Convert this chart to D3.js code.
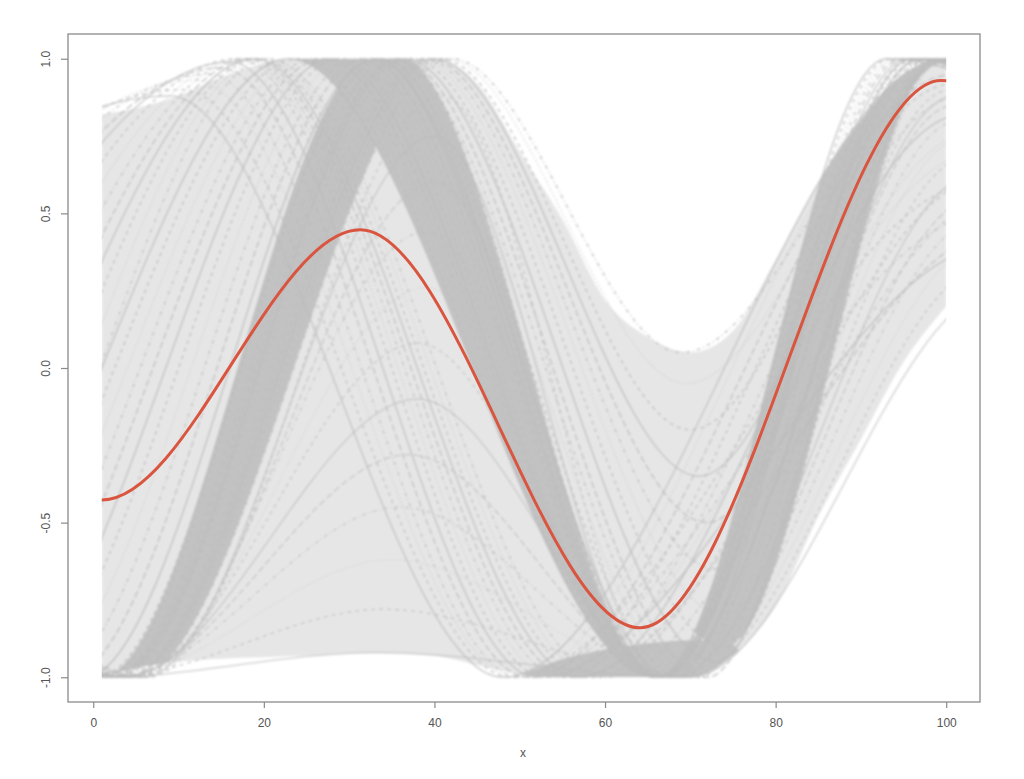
<!DOCTYPE html>
<html>
<head>
<meta charset="utf-8">
<script src="https://cdn.jsdelivr.net/npm/d3@7"></script>
<style>
  html, body { margin: 0; padding: 0; background: #fff; }
  svg { display: block; }
  text { font-family: "Liberation Sans", Arial, sans-serif; fill: #555; }
</style>
</head>
<body>
<svg id="chart" width="1024" height="779"></svg>
<script>
  /* global d3 */
  // axis ticks
  var xTicks = [0, 20, 40, 60, 80, 100];
  var yTicks = [-1, -0.5, 0, 0.5, 1];
  var yTickLabels = ["-1.0", "-0.5", "0.0", "0.5", "1.0"];

  // outline of the grey cloud (top and bottom), read at these x
  var edgeX     = [1, 5, 10, 15, 20, 25, 30, 35, 40, 45, 50, 55, 60, 65, 70, 75, 80, 85, 90, 95, 100];
  var upperEdge = [0.82, 0.84, 0.88, 0.94, 0.985, 1, 1, 1, 1, 0.92, 0.7, 0.48, 0.22, 0.1, 0.05, 0.12, 0.35, 0.6, 0.8, 0.95, 1];
  var lowerEdge = [-1, -0.97, -0.95, -0.94, -0.935, -0.93, -0.92, -0.92, -0.93, -0.96, -0.99, -1, -1, -1, -1, -0.93, -0.77, -0.48, -0.23, 0.02, 0.2];

  // peaks and troughs [x, y] of every curve, by group
  // rising from the bottom-left corner, peak at 33-42
  var riseKnots = [
    [[-40, 1], [1, -1], [33, 1], [68, -1], [96, 1], [150, -1]],
    [[-40, 1], [1.3, -1], [33.7, 1], [69, -1], [97, 1], [150, -1]],
    [[-40, 1], [1.6, -1], [34.4, 1], [70, -1], [97.5, 1], [150, -1]],
    [[-40, 1], [1.9, -1], [35.1, 1], [71, -1], [98, 1], [150, -1]],
    [[-40, 1], [2.2, -1], [35.8, 1], [72, -1], [98.5, 1], [150, -1]],
    [[-40, 1], [2.5, -1], [36.5, 1], [73, -0.95], [99, 1], [150, -1]],
    [[-40, 1], [2.8, -1], [37.2, 1], [74, -0.9], [99.5, 1], [150, -1]],
    [[-40, 1], [3.1, -1], [37.9, 1], [74, -0.8], [100, 1], [150, -1]],
    [[-40, 1], [3.4, -1], [38.6, 1], [73, -0.65], [100, 1], [150, -1]],
    [[-40, 1], [3.7, -1], [39.3, 1], [72, -0.5], [100, 1], [150, -1]],
    [[-40, 1], [4, -1], [40, 1], [71, -0.35], [100.5, 1], [150, -1]],
    [[-40, 1], [4.3, -1], [40.7, 1], [70, -0.2], [100.5, 1], [150, -1]],
    [[-40, 1], [4.6, -1], [41.4, 1], [69.5, -0.05], [101, 1], [150, -1]],
    [[-40, 1], [5, -1], [42, 1], [69, 0.05], [101, 1], [150, -1]]
  ];

  // peak at 23-36, falling together to the trough near 66
  var fallKnots = [
    [[-150, 1], [-21, -1], [23, 1], [66, -1], [93, 1], [160, -1]],
    [[-150, 1], [-19, -1], [24, 1], [66, -1], [93.5, 1], [160, -1]],
    [[-150, 1], [-17, -1], [25, 1], [66.1, -1], [94, 1], [160, -1]],
    [[-150, 1], [-15, -1], [26, 1], [66.1, -1], [94.5, 1], [160, -1]],
    [[-150, 1], [-13, -1], [27, 1], [66.2, -1], [95, 1], [160, -1]],
    [[-150, 1], [-11, -1], [28, 1], [66.2, -1], [95.5, 1], [160, -1]],
    [[-150, 1], [-9, -1], [29, 1], [66.3, -1], [96, 1], [160, -1]],
    [[-150, 1], [-7, -1], [30, 1], [66.3, -1], [96, 1], [160, -1]],
    [[-150, 1], [-5, -1], [31, 1], [66.4, -1], [96.5, 1], [160, -1]],
    [[-150, 1], [-3, -1], [32, 1], [66.4, -1], [97, 1], [160, -1]],
    [[-150, 1], [-1, -1], [33, 1], [66.5, -1], [97, 1], [160, -1]],
    [[-150, 1], [0.5, -1], [34, 1], [66.5, -1], [97.5, 1], [160, -1]],
    [[-150, 1], [2, -1], [35, 1], [66.5, -1], [98, 1], [160, -1]],
    [[-150, 1], [3, -1], [36, 1], [66.5, -1], [98, 1], [160, -1]]
  ];

  // start high, peak early
  var earlyKnots = [
    [[-150, 1], [-90, -1], [9, 0.88], [48, -1], [100, 1], [160, -1]],
    [[-150, 1], [-80, -1], [10.5, 0.9], [49, -1], [104, 0.6], [160, -1]],
    [[-150, 1], [-70, -1], [12, 0.93], [49.5, -1], [100, 0.98], [160, -1]],
    [[-150, 1], [-62, -1], [13.5, 0.95], [50, -1], [105, 0.5], [160, -1]],
    [[-150, 1], [-55, -1], [15, 0.97], [51, -1], [101, 0.95], [160, -1]],
    [[-150, 1], [-50, -1], [16, 0.99], [52, -1], [106, 0.4], [160, -1]],
    [[-150, 1], [-45, -1], [17, 1], [53, -1], [101, 0.92], [160, -1]],
    [[-150, 1], [-40, -1], [17.5, 1], [54, -1], [104, 0.7], [160, -1]],
    [[-150, 1], [-35, -1], [18, 1], [55, -1], [102, 0.88], [160, -1]],
    [[-150, 1], [-31, -1], [18.5, 1], [56, -1], [107, 0.45], [160, -1]],
    [[-150, 1], [-28, -1], [19, 1], [57, -1], [102, 0.82], [160, -1]],
    [[-150, 1], [-25, -1], [19.5, 1], [58, -1], [105, 0.62], [160, -1]],
    [[-150, 1], [-22, -1], [20, 1], [59, -1], [103, 0.76], [160, -1]],
    [[-150, 1], [-19, -1], [20.5, 1], [60, -1], [106, 0.55], [160, -1]]
  ];

  // low arches from the bottom
  var lowKnots = [
    [[-40, 1], [1, -1], [33, -0.92], [70, -1], [106, 0.25], [160, -1]],
    [[-40, 1], [1.5, -1], [34, -0.78], [69.5, -1], [105, 0.33], [160, -1]],
    [[-40, 1], [2, -1], [35, -0.62], [69, -1], [104.5, 0.4], [160, -1]],
    [[-40, 1], [2.5, -1], [36, -0.45], [68.5, -1], [104, 0.48], [160, -1]],
    [[-40, 1], [3, -1], [37, -0.28], [68, -1], [103.5, 0.55], [160, -1]],
    [[-40, 1], [3.5, -1], [38, -0.1], [68, -1], [103, 0.62], [160, -1]],
    [[-40, 1], [4, -1], [38, 0.08], [67.5, -1], [102.5, 0.68], [160, -1]],
    [[-40, 1], [4.5, -1], [39, 0.26], [67, -1], [102, 0.74], [160, -1]],
    [[-40, 1], [5, -1], [39, 0.44], [67, -1], [101.5, 0.8], [160, -1]],
    [[-40, 1], [5.5, -1], [40, 0.6], [66.5, -1], [101, 0.85], [160, -1]],
    [[-40, 1], [6, -1], [40, 0.75], [66.5, -1], [101, 0.88], [160, -1]],
    [[-40, 1], [6.5, -1], [41, 0.88], [67, -1], [100.5, 0.9], [160, -1]]
  ];

  // flat limits and the top of the dark pool along the bottom
  var topLine = [[-10, 1], [110, 1]];
  var bottomLine = [[-10, -1], [110, -1]];
  var poolKnots = [[48, -1.02], [54, -0.95], [60, -0.91], [65, -0.89], [70, -0.88], [74, -0.88], [78, -1.02]];

  // where the curves pile up: [upper edge curve, lower edge curve, x from, x to]
  var cores = [
    [riseKnots[0], riseKnots[13], 1, 33],
    [topLine, fallKnots[0], 23, 36],
    [fallKnots[13], fallKnots[0], 36, 67],
    [fallKnots[0], riseKnots[6], 66, 85.5],
    [earlyKnots[0], riseKnots[6], 85.5, 100],
    [poolKnots, bottomLine, 48, 78]
  ];

  // mean curve
  var meanKnots = [[-30, 0.3], [1, -0.427], [31.3, 0.447], [64.1, -0.84], [99.4, 0.93], [135, -0.5]];

  // R lty 1:5
  var dashes = [null, "4,4", "1,3", "1,3,4,3", "7,3"];

  var svg = d3.select("#chart"),
    defs = svg.append("defs"),
    x = d3.scaleLinear().domain([-2.96, 103.96]).range([68, 980]),
    y = d3.scaleLinear().domain([-1.08, 1.08]).range([702, 34]);

  defs.append("clipPath")
      .attr("id", "clip")
    .append("rect")
      .attr("x", x(1))
      .attr("y", 0)
      .attr("width", x(100) - x(1))
      .attr("height", 779);

  defs.append("filter")
      .attr("id", "soft")
      .attr("x", "-5%").attr("y", "-5%")
      .attr("width", "110%").attr("height", "110%")
    .append("feGaussianBlur")
      .attr("stdDeviation", 0.8);

  var line = d3.line()
    .x(function (d) { return x(d[0]); })
    .y(function (d) { return y(d[1]); })
    .curve(d3.curveMonotoneX);

  var below = d3.area()
    .x(function (d) { return x(d[0]); })
    .y0(y(-1.2))
    .y1(function (d) { return y(d[1]); })
    .curve(d3.curveMonotoneX);

  var above = d3.area()
    .x(function (d) { return x(d[0]); })
    .y0(y(1.2))
    .y1(function (d) { return y(d[1]); })
    .curve(d3.curveMonotoneX);

  var cloud = d3.area()
    .x(function (d, i) { return x(edgeX[i]); })
    .y0(function (d, i) { return y(lowerEdge[i]); })
    .y1(function (d, i) { return y(upperEdge[i]); })
    .curve(d3.curveMonotoneX);

  defs.append("clipPath")
      .attr("id", "cloud-clip")
    .append("path")
      .attr("d", cloud(edgeX));

  var clipped = svg.append("g")
      .attr("clip-path", "url(#clip)");
  var plot = clipped.append("g")
      .attr("filter", "url(#soft)");

  plot.append("path")
    .attr("d", cloud(edgeX))
    .attr("fill", "#e6e6e6");

  // dense cores: below the upper edge curve, above the lower one, within x range
  var coreLayer = plot.append("g").attr("clip-path", "url(#cloud-clip)");
  cores.forEach(function (c, i) {
    defs.append("clipPath")
        .attr("id", "core-x-" + i)
      .append("rect")
        .attr("x", x(c[2]))
        .attr("y", 0)
        .attr("width", x(c[3]) - x(c[2]) + 0.5)
        .attr("height", 779);
    defs.append("clipPath")
        .attr("id", "core-y-" + i)
      .append("path")
        .attr("d", above(c[1]));
    coreLayer.append("g")
        .attr("clip-path", "url(#core-x-" + i + ")")
      .append("g")
        .attr("clip-path", "url(#core-y-" + i + ")")
      .append("path")
        .attr("d", below(c[0]))
        .attr("fill", "#c3c3c3");
  });

  function curves(cls, data, width, opacity) {
    plot.selectAll("." + cls)
      .data(data)
      .enter().append("path")
        .attr("class", cls)
        .attr("d", line)
        .attr("fill", "none")
        .attr("stroke", "#bcbcbc")
        .attr("stroke-width", width)
        .attr("stroke-opacity", opacity)
        .attr("stroke-dasharray", function (d, i) { return dashes[i % 5]; });
  }

  curves("early", earlyKnots, 1.4, 0.8);
  curves("low", lowKnots, 1.3, 0.75);
  curves("rise", riseKnots, 1.5, 0.8);
  curves("fall", fallKnots, 1.5, 0.8);

  // mean curve stays sharp
  clipped.append("path")
    .attr("d", line(meanKnots))
    .attr("fill", "none")
    .attr("stroke", "#d9553f")
    .attr("stroke-width", 3);

  // box
  svg.append("rect")
    .attr("x", 68)
    .attr("y", 34)
    .attr("width", 912)
    .attr("height", 668)
    .attr("fill", "none")
    .attr("stroke", "#8a8a8a")
    .attr("stroke-width", 1.3);

  var xAxis = svg.append("g")
    .attr("transform", "translate(0,702)")
    .call(d3.axisBottom(x).tickValues(xTicks).tickSize(6).tickPadding(10));
  var yAxis = svg.append("g")
    .attr("transform", "translate(68,0)")
    .call(d3.axisLeft(y).tickValues(yTicks).tickSize(7)
      .tickFormat(function (d, i) { return yTickLabels[i]; }));

  [xAxis, yAxis].forEach(function (a) {
    a.select(".domain").remove();
    a.selectAll("line").attr("stroke", "#8a8a8a").attr("stroke-width", 1.2);
    a.selectAll("text")
      .attr("fill", "#555")
      .style("font-size", "12px")
      .style("font-family", "'Liberation Sans', Arial, sans-serif");
  });

  yAxis.selectAll("text")
    .attr("x", null)
    .attr("text-anchor", "middle")
    .attr("transform", "translate(-22,0) rotate(-90)")
    .attr("dy", "0.35em");

  svg.append("text")
    .attr("x", 523)
    .attr("y", 757)
    .attr("text-anchor", "middle")
    .style("font-size", "12px")
    .text("x");
</script>
</body>
</html>
